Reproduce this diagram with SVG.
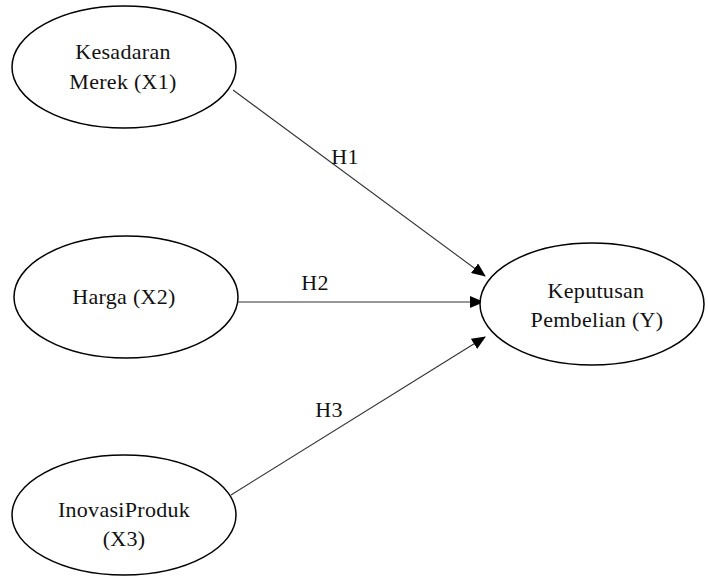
<svg xmlns="http://www.w3.org/2000/svg" width="708" height="577" viewBox="0 0 708 577">
<style>
.node{fill:#fff;stroke:#000;stroke-width:1.5}
.t{font-family:'Liberation Serif','Times New Roman','DejaVu Serif',serif;font-size:22px;fill:#111;text-anchor:middle;letter-spacing:0.3px}
.edge{stroke:#333;stroke-width:1.1;fill:none;marker-end:url(#ah)}
</style>
<defs>
<marker id="ah" markerWidth="14" markerHeight="12" refX="13" refY="6" orient="auto" markerUnits="userSpaceOnUse">
<path d="M0,0 L14,6 L0,12 Z" fill="#000"/>
</marker>
</defs>
<rect width="708" height="577" fill="#fff"/>
<g id="connectors">
<line class="edge" x1="233" y1="90" x2="485" y2="276"/>
<line class="edge" x1="238" y1="302" x2="483" y2="302"/>
<line class="edge" x1="231" y1="495" x2="485" y2="337"/>
<text class="t" x="345" y="164">H1</text>
<text class="t" x="315" y="290">H2</text>
<text class="t" x="329" y="417">H3</text>
</g>
<g id="x1">
<ellipse class="node" cx="124" cy="67" rx="112" ry="61"/>
<text class="t" x="123" y="59">Kesadaran</text>
<text class="t" x="123" y="89">Merek (X1)</text>
</g>
<g id="x2">
<ellipse class="node" cx="126" cy="297" rx="112" ry="61"/>
<text class="t" x="124" y="304">Harga (X2)</text>
</g>
<g id="x3">
<ellipse class="node" cx="124" cy="515" rx="112" ry="60"/>
<text class="t" x="124" y="517">InovasiProduk</text>
<text class="t" x="124" y="546">(X3)</text>
</g>
<g id="y">
<ellipse class="node" cx="592" cy="304" rx="112" ry="61"/>
<text class="t" x="596" y="298">Keputusan</text>
<text class="t" x="597" y="327">Pembelian (Y)</text>
</g>
</svg>
